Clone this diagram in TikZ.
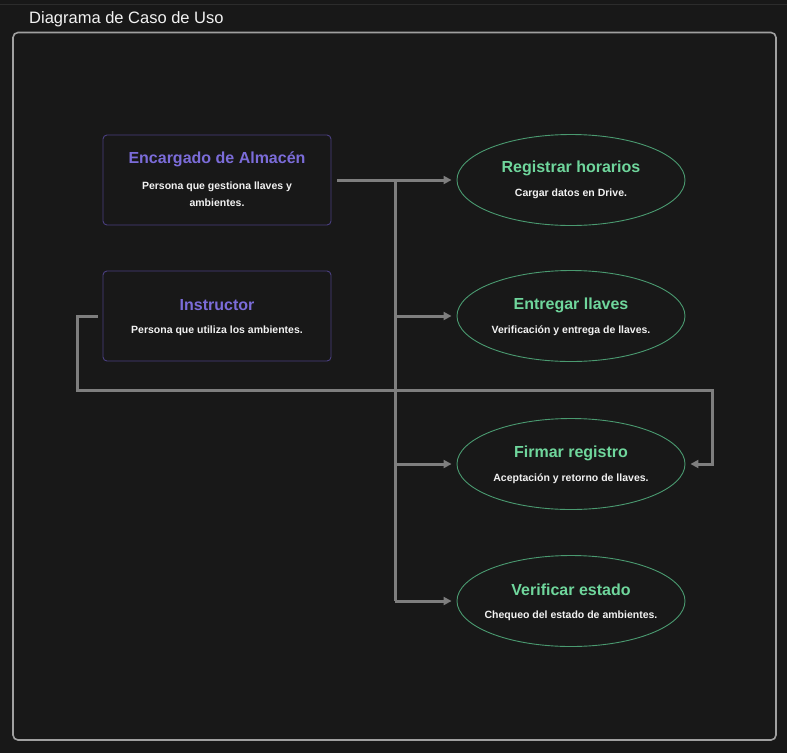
\documentclass[tikz,border=0pt]{standalone}
\usepackage{fontspec}
\setmainfont{Liberation Sans}
\usetikzlibrary{arrows.meta,shapes.geometric}
\definecolor{bg}{HTML}{181818}
\definecolor{topline}{HTML}{2C2C2C}
\definecolor{frameclr}{HTML}{A0A0A0}
\definecolor{purpt}{HTML}{7B6CD9}
\definecolor{purpb}{HTML}{4A3F80}
\definecolor{greent}{HTML}{6FD69C}
\definecolor{greenb}{HTML}{4A9A70}
\definecolor{conn}{HTML}{7E7E7E}
\definecolor{txt}{HTML}{F2F2F2}
\tikzset{
  actorbox/.style={draw=purpb, line width=0.9pt, rounded corners=4pt, fill=bg, minimum width=228pt, minimum height=90pt, inner sep=0pt},
  usecase/.style={draw=greenb, line width=0.9pt, ellipse, fill=bg, minimum width=228pt, minimum height=91pt, inner sep=0pt},
  actortitle/.style={text=purpt, font=\fontsize{16}{19}\selectfont\bfseries},
  uctitle/.style={text=greent, font=\fontsize{16}{19}\selectfont\bfseries},
  desc/.style={text=txt, font=\fontsize{10.5}{17}\selectfont\bfseries, align=center},
  link/.style={draw=conn, line width=3pt},
  arrowlink/.style={link, -{Triangle[length=8pt,width=8pt]}},
}
\begin{document}
\begin{tikzpicture}[x=1pt,y=-1pt]
\fill[bg] (0,0) rectangle (787,753);
\useasboundingbox (0,0) rectangle (787,753);
\draw[topline, line width=1pt] (0,4.5) -- (787,4.5);
\node[anchor=base west, inner sep=0pt, text=txt, font=\fontsize{16.5}{20}\selectfont] (title) at (29,23.5) {Diagrama de Caso de Uso};
\draw[frameclr, line width=1.6pt, rounded corners=5pt] (13,32.5) rectangle (776,740);

% actors
\node[actorbox] (b1) at (217,180) {};
\node[actortitle] (b1t) at (217,159) {Encargado de Almacén};
\node[desc] (b1d) at (217,194) {Persona que gestiona llaves y\\ambientes.};
\node[actorbox] (b2) at (217,316) {};
\node[actortitle] (b2t) at (217,305) {Instructor};
\node[desc] (b2d) at (217,331) {Persona que utiliza los ambientes.};

% use cases
\node[usecase] (e1) at (571,180) {};
\node[uctitle] (e1t) at (571,168) {Registrar horarios};
\node[desc] (e1d) at (571,194) {Cargar datos en Drive.};
\node[usecase] (e2) at (571,316) {};
\node[uctitle] (e2t) at (571,305) {Entregar llaves};
\node[desc] (e2d) at (571,331) {Verificación y entrega de llaves.};
\node[usecase] (e3) at (571,464) {};
\node[uctitle] (e3t) at (571,453) {Firmar registro};
\node[desc] (e3d) at (571,479) {Aceptación y retorno de llaves.};
\node[usecase] (e4) at (571,601) {};
\node[uctitle] (e4t) at (571,590) {Verificar estado};
\node[desc] (e4d) at (571,616) {Chequeo del estado de ambientes.};

% connectors
\coordinate (s1) at ([xshift=6pt]b1.east);
\coordinate (j1) at (395,180);
\coordinate (jend) at (395,601);
\draw[link] (j1) -- (jend);
\draw[arrowlink] (s1) -- ([xshift=-5pt]e1.west);
\draw[arrowlink] (395,316) -- ([xshift=-5pt]e2.west);
\draw[arrowlink] (395,464) -- ([xshift=-5pt]e3.west);
\draw[arrowlink] (jend) -- ([xshift=-5pt]e4.west);
\coordinate (s2) at ([xshift=-5pt]b2.west);
\draw[arrowlink] (s2) -- (77,316) -- (77,390) -- (712,390) -- (712,464) -- ([xshift=5pt]e3.east);
\end{tikzpicture}
\end{document}
